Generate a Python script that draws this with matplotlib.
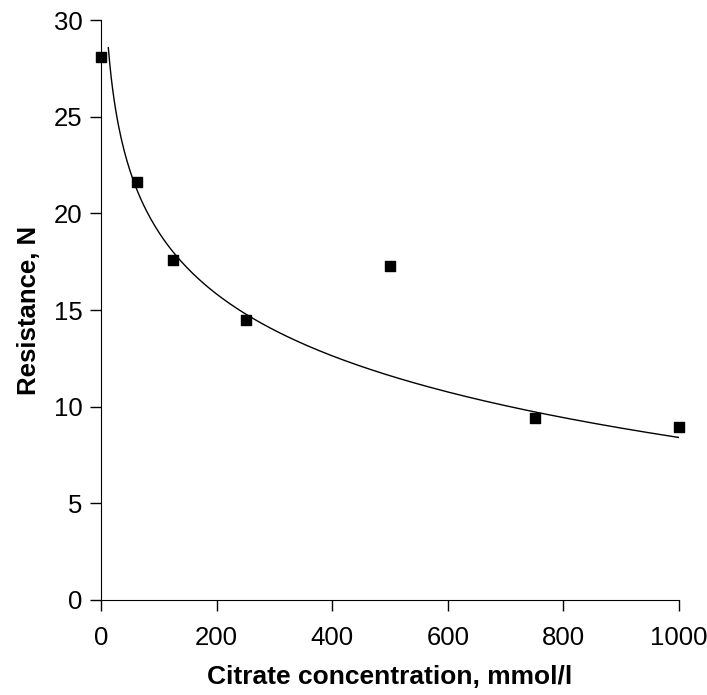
import matplotlib
matplotlib.use('Agg')
import matplotlib.pyplot as plt
import numpy as np

plt.rcParams['font.family'] = ['Liberation Sans', 'DejaVu Sans']

# measured points
citrate = [0, 62.5, 125, 250, 500, 750, 1000]
resistance = [28.1, 21.6, 17.6, 14.5, 17.3, 9.4, 8.95]

# logarithmic trend line: y = a*ln(x) + b
trend_a = -4.61
trend_b = 40.25
trend_start = 12.6
trend_end = 1000

fig = plt.figure(figsize=(7.07, 6.95), dpi=100)
ax = fig.add_axes([0.1429, 0.1367, 0.8175, 0.8345])

xs = np.linspace(trend_start, trend_end, 400)
ax.plot(xs, trend_a * np.log(xs) + trend_b, color='black', lw=1.0)
ax.scatter(citrate, resistance, marker='s', s=60, color='black', zorder=3, clip_on=False)

ax.set_xlim(0, 1000)
ax.set_ylim(0, 30)
ax.set_xticks(np.arange(0, 1001, 200))
ax.set_yticks(np.arange(0, 31, 5))

ax.spines['right'].set_color('none')
ax.spines['top'].set_color('none')
ax.tick_params(direction='out', length=8, width=1, labelsize=18.5)
ax.tick_params(axis='x', pad=10.5)
ax.tick_params(axis='y', pad=5.5)

ax.set_xlabel('Citrate concentration, mmol/l', fontsize=19, fontweight='bold', labelpad=11)
ax.set_ylabel('Resistance, N', fontsize=18.5, fontweight='bold', labelpad=9)

fig.savefig('out.png', dpi=100)
